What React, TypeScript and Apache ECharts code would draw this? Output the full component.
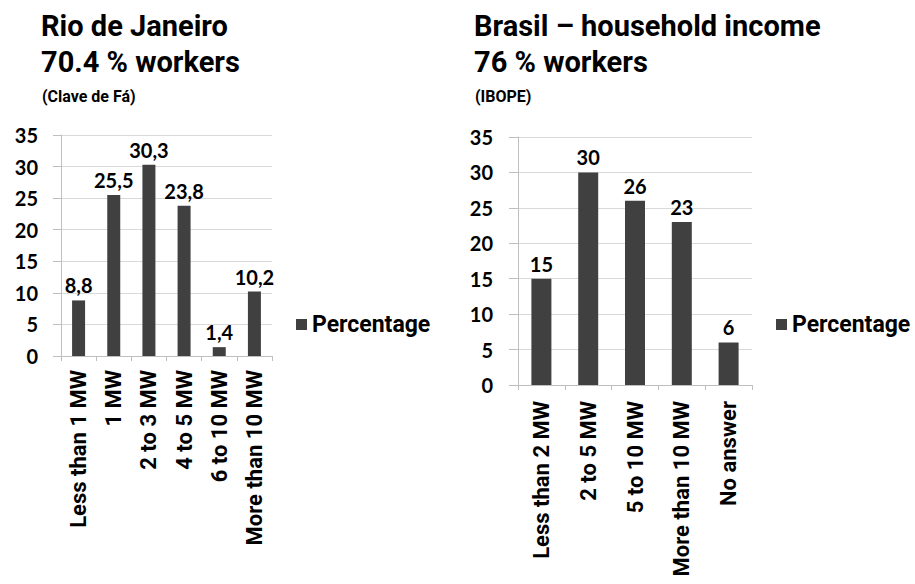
import React, { useEffect, useRef } from "react";
import * as echarts from "echarts";

const rioCategories = ["Less than 1 MW", "1 MW", "2 to 3 MW", "4 to 5 MW", "6 to 10 MW", "More than 10 MW"];
const rioValues = [8.8, 25.5, 30.3, 23.8, 1.4, 10.2];
const brCategories = ["Less than 2 MW", "2 to 5 MW", "5 to 10 MW", "More than 10 MW", "No answer"];
const brValues = [15, 30, 26, 23, 6];
const seriesName = "Percentage";

const BAR = "#404040";
const GRID = "#d9d9d9";
const AXIS = "#bfbfbf";
const TICKFONT = "Lato";
const TEXTFONT = "Roboto";

export default function App() {
  const ref = useRef<HTMLDivElement>(null);
  useEffect(() => {
    if (!ref.current) return;
    const chart = echarts.init(ref.current, null, { renderer: "svg" });
    const yAxisBase = (margin: number, tick: number) => ({
      type: "value",
      min: 0,
      max: 35,
      interval: 5,
      axisLine: { show: true, lineStyle: { color: AXIS, width: 1 } },
      axisTick: { show: true, length: tick, lineStyle: { color: AXIS } },
      splitLine: { show: true, lineStyle: { color: GRID, width: 1 } },
      axisLabel: { margin, color: "#000", fontFamily: TICKFONT, fontWeight: "bold", fontSize: 20 },
    });
    const xAxisBase = (cats: string[], margin: number) => ({
      type: "category",
      data: cats,
      axisLine: { show: true, lineStyle: { color: AXIS, width: 1 } },
      axisTick: { show: true, length: 5, alignWithLabel: false, lineStyle: { color: AXIS } },
      axisLabel: {
        rotate: 90,
        interval: 0,
        margin,
        color: "#000",
        fontFamily: TEXTFONT,
        fontWeight: "bold",
        fontSize: 22,
      },
    });
    const dataLabel = {
      show: true,
      position: "top",
      distance: 5,
      color: "#000",
      fontFamily: TICKFONT,
      fontWeight: "bold",
      fontSize: 20,
      formatter: (p: any) => String(p.value).replace(".", ","),
    };
    const titleStyle = { fontFamily: TEXTFONT, fontWeight: "bold", fontSize: 29, lineHeight: 36, color: "#000" };
    const subStyle = { fontFamily: TEXTFONT, fontWeight: "bold", fontSize: 16, color: "#000" };
    const legendStyle = { fontFamily: TEXTFONT, fontWeight: "bold", fontSize: 23, color: "#000" };
    chart.setOption({
      animation: false,
      backgroundColor: "#fff",
      title: [
        { text: "Rio de Janeiro\n70.4 % workers", left: 41, top: 8, padding: 0, textStyle: titleStyle },
        { text: "(Clave de Fá)", left: 42, top: 88, padding: 0, textStyle: subStyle },
        { text: "Brasil – household income\n76 % workers", left: 474, top: 8, padding: 0, textStyle: titleStyle },
        { text: "(IBOPE)", left: 475, top: 88, padding: 0, textStyle: subStyle },
      ],
      legend: [
        {
          data: [seriesName],
          left: 296,
          top: 313,
          padding: 0,
          icon: "rect",
          itemWidth: 11,
          itemHeight: 11,
          textStyle: legendStyle,
        },
        {
          data: [seriesName],
          left: 776,
          top: 313,
          padding: 0,
          icon: "rect",
          itemWidth: 11,
          itemHeight: 11,
          textStyle: legendStyle,
        },
      ],
      grid: [
        { left: 61, top: 135, width: 211, height: 221, containLabel: false },
        { left: 518, top: 137, width: 234, height: 248, containLabel: false },
      ],
      xAxis: [
        { ...xAxisBase(rioCategories, 14), gridIndex: 0 },
        { ...xAxisBase(brCategories, 16), gridIndex: 1 },
      ],
      yAxis: [
        { ...yAxisBase(23, 8), gridIndex: 0 },
        { ...yAxisBase(25, 9), gridIndex: 1 },
      ],
      series: [
        {
          name: seriesName,
          type: "bar",
          xAxisIndex: 0,
          yAxisIndex: 0,
          data: rioValues,
          barWidth: 13,
          itemStyle: { color: BAR },
          label: dataLabel,
        },
        {
          name: seriesName,
          type: "bar",
          xAxisIndex: 1,
          yAxisIndex: 1,
          data: brValues,
          barWidth: 20,
          itemStyle: { color: BAR },
          label: dataLabel,
        },
      ],
    });
    return () => chart.dispose();
  }, []);
  return (
    <div
      ref={ref}
      style={{ position: "fixed", left: 0, top: 0, width: 915, height: 584, background: "#fff" }}
    />
  );
}
